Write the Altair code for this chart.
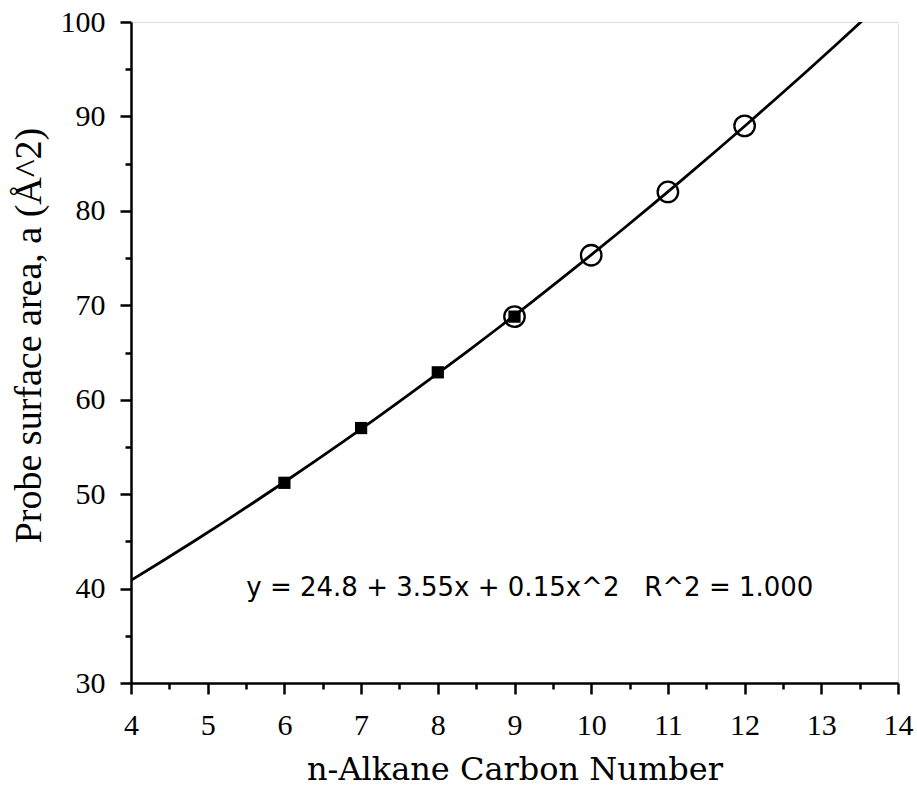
import altair as alt
import pandas as pd

# Data
square_x = [6, 7, 8, 9]
square_y = [51.2, 57.0, 62.9, 68.8]
circle_x = [9, 10, 11, 12]
circle_y = [68.8, 75.3, 82.0, 89.0]

x_major = [4, 5, 6, 7, 8, 9, 10, 11, 12, 13, 14]
x_minor = [4.5, 5.5, 6.5, 7.5, 8.5, 9.5, 10.5, 11.5, 12.5, 13.5]
y_major = [30, 40, 50, 60, 70, 80, 90, 100]
y_minor = [35, 45, 55, 65, 75, 85, 95]

NB = "\u00a0"
note_text = ["y = 24.8 + 3.55x + 0.15x^2" + NB * 3 + "R^2 = 1.000"]
note_x = [9.2]
note_y = [40.1]

squares = pd.DataFrame({"x": square_x, "y": square_y})
circles = pd.DataFrame({"x": circle_x, "y": circle_y})
allpts = pd.DataFrame({"x": square_x[:-1] + circle_x, "y": square_y[:-1] + circle_y})
note = pd.DataFrame({"x": note_x, "y": note_y, "t": note_text})

SERIF = "Liberation Serif"
xscale = alt.Scale(domain=[4, 14], nice=False, zero=False)
yscale = alt.Scale(domain=[30, 100], nice=False, zero=False)

xaxis = alt.Axis(values=x_major, orient="bottom", tickSize=11, tickWidth=2.5, tickColor="black",
                 domainColor="black", domainWidth=2.5, labelFont=SERIF, labelFontSize=30,
                 labelColor="black", labelPadding=16, grid=False, labelFlush=False,
                 title="n-Alkane Carbon Number", titleFont="DejaVu Serif", titleFontSize=32,
                 titleFontWeight="normal", titleColor="black", titlePadding=14)
yaxis = alt.Axis(values=y_major, orient="left", tickSize=11, tickWidth=2.5, tickColor="black",
                 domainColor="black", domainWidth=2.5, labelFont=SERIF, labelFontSize=30,
                 labelColor="black", labelPadding=15, grid=False, labelFlush=False,
                 title="Probe surface area, a (Å^2)", titleFont=SERIF, titleFontSize=38,
                 titleFontWeight="normal", titleColor="black", titlePadding=12, titleY=313)

curve = alt.Chart(allpts).transform_regression(
    "x", "y", method="poly", order=2, extent=[4, 14]
).mark_line(color="black", strokeWidth=2.8, clip=True).encode(
    x=alt.X("x:Q", scale=xscale, axis=xaxis),
    y=alt.Y("y:Q", scale=yscale, axis=yaxis),
)

minor_x = alt.Chart(pd.DataFrame({"x": [4]})).mark_point(opacity=0).encode(
    x=alt.X("x:Q", scale=xscale,
            axis=alt.Axis(values=x_minor, orient="bottom", labels=False, domain=False,
                          tickSize=6, tickWidth=2.5, tickColor="black", grid=False, title=None)),
)
minor_y = alt.Chart(pd.DataFrame({"y": [30]})).mark_point(opacity=0).encode(
    y=alt.Y("y:Q", scale=yscale,
            axis=alt.Axis(values=y_minor, orient="left", labels=False, domain=False,
                          tickSize=6, tickWidth=2.5, tickColor="black", grid=False, title=None)),
)

sq = alt.Chart(squares).mark_point(shape="square", filled=True, color="black", size=150, opacity=1).encode(
    x=alt.X("x:Q", axis=None), y=alt.Y("y:Q", axis=None))
ci = alt.Chart(circles).mark_point(shape="circle", filled=False, color="black", size=420,
                                   strokeWidth=2.3, opacity=1).encode(
    x=alt.X("x:Q", axis=None), y=alt.Y("y:Q", axis=None))
txt = alt.Chart(note).mark_text(font="DejaVu Sans", fontSize=26, color="black").encode(
    x=alt.X("x:Q", axis=None), y=alt.Y("y:Q", axis=None), text="t:N")

chart = alt.layer(curve, minor_x, minor_y, sq, ci, txt).resolve_axis(
    x="independent", y="independent"
).properties(
    width=767, height=661,
    autosize=alt.AutoSizeParams(type="none"),
    padding={"left": 131, "top": 22, "right": 19, "bottom": 107},
).configure_view(stroke="black", strokeWidth=2.5).configure(background="white")

chart.save("out.html", embed_options={"renderer": "svg", "actions": False})
